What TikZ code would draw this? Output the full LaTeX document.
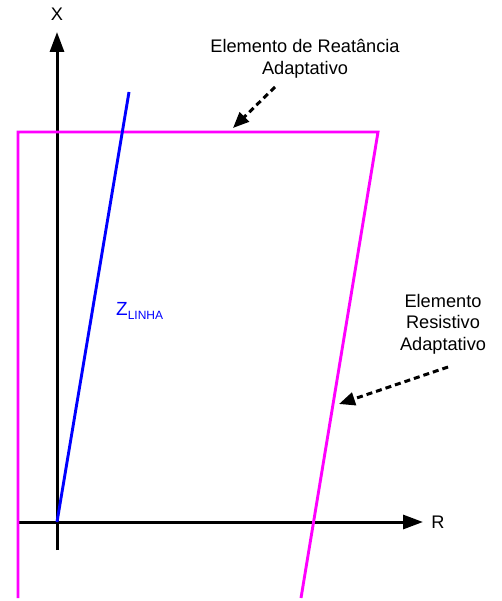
\documentclass[tikz,border=0pt]{standalone}
\usepackage{fontspec}
\setmainfont{Liberation Sans}
\usetikzlibrary{arrows.meta}
\definecolor{mag}{RGB}{255,0,255}
\definecolor{lineblue}{RGB}{0,0,255}
\begin{document}
\begin{tikzpicture}[x=1pt,y=-1pt,
  axis/.style={line width=3pt,draw=black,-{Triangle[length=20pt,width=14pt]}},
  elem/.style={line width=2.9pt,draw=mag,line join=miter},
  zline/.style={line width=2.9pt,draw=lineblue},
  pointer/.style={line width=3pt,draw=black,dash pattern=on 6pt off 4pt,-{Triangle[length=16pt,width=13pt]}},
  lbl/.style={font=\fontsize{18.2}{21.5}\selectfont,align=center,inner sep=0pt}]
\useasboundingbox (0,0) rectangle (502,601);
% axes
\coordinate (xbot) at (57,550);
\coordinate (xtop) at (57,32);
\coordinate (rleft) at (17,522);
\coordinate (rright) at (423,522);
\coordinate (origin) at (57,522);
\draw[axis] (xbot) -- (xtop);
\draw[axis] (rleft) -- (rright);
\node[lbl] (xl) at (57,14) {X};
\node[lbl] (rl) at (438,522) {R};
% adaptive characteristic
\coordinate (lb) at (18,598);
\coordinate (lt) at (18,132);
\coordinate (rt) at (378,132);
\coordinate (rb) at (301,598);
\draw[elem] (lb) -- (lt) -- (rt) -- (rb);
% line impedance
\coordinate (zt) at (129,92);
\draw[zline] (origin) -- (zt);
\node[inner sep=0pt,text=lineblue,anchor=west] (zl) at (116,311) {\fontsize{19}{20}\selectfont Z\raisebox{-0.35ex}{\fontsize{12}{13}\selectfont LINHA}};
% labels
\node[lbl] (reat) at (305,59) {Elemento de Reatância\\Adaptativo};
\node[lbl] (resi) at (443,324) {Elemento\\Resistivo\\Adaptativo};
\coordinate (p1s) at (275,87);
\coordinate (p1e) at (233,128);
\coordinate (p2s) at (448,367);
\coordinate (p2e) at (339,404);
\draw[pointer] (p1s) -- (p1e);
\draw[pointer] (p2s) -- (p2e);
\end{tikzpicture}
\end{document}
